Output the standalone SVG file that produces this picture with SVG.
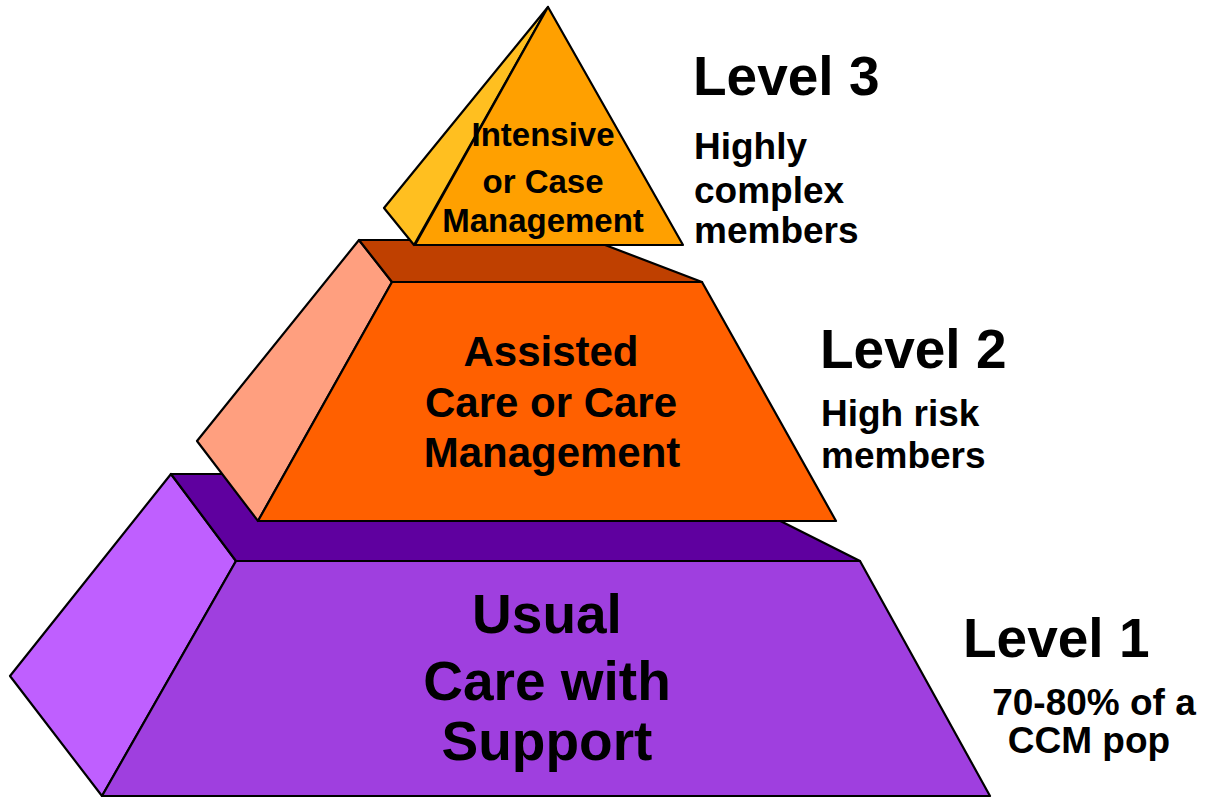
<svg xmlns="http://www.w3.org/2000/svg" width="1207" height="797" viewBox="0 0 1207 797">
<style>
.f{stroke:#000;stroke-width:2.2;stroke-linejoin:round}
text{font-family:"Liberation Sans",Arial,sans-serif;font-weight:bold;fill:#000}
.c{text-anchor:middle}
.lv{font-size:55px}
.sub{font-size:37px}
</style>
<rect width="1207" height="797" fill="#fff"/>
<g id="tier1">
<polygon class="f" fill="#BF5FFF" points="171,474 10,676 102,796 236,561"/>
<polygon class="f" fill="#5F009F" points="171,474 687,474 860,561 236,561"/>
<polygon class="f" fill="#9F3FDF" points="236,561 860,561 990,796 102,796" stroke-width="2.6"/>
<text class="c" font-size="55" x="547" y="633">Usual</text>
<text class="c" font-size="55" x="547" y="700">Care with</text>
<text class="c" font-size="55" x="547" y="760">Support</text>
</g>
<g id="tier2">
<polygon class="f" fill="#FF9F7F" points="359,240 197,441 258,521 392,282"/>
<polygon class="f" fill="#BF4000" points="359,240 592,240 702,282 392,282"/>
<polygon class="f" fill="#FF6000" points="392,282 702,282 836,521 258,521"/>
<text class="c" font-size="42" x="551" y="366">Assisted</text>
<text class="c" font-size="42" x="551" y="417">Care or Care</text>
<text class="c" font-size="42" x="552" y="467">Management</text>
</g>
<g id="tier3">
<polygon class="f" fill="#FFBF20" points="548,7 384,208 414,245"/>
<polygon class="f" fill="#FFA000" points="548,7 415,245 683,245"/>
<text class="c" font-size="33" x="543" y="146">Intensive</text>
<text class="c" font-size="33" x="543" y="193">or Case</text>
<text class="c" font-size="33" x="543" y="232">Management</text>
</g>
<g id="label3">
<text class="lv" x="693" y="95">Level 3</text>
<text class="sub" x="694" y="159">Highly</text>
<text class="sub" x="694" y="203">complex</text>
<text class="sub" x="694" y="243">members</text>
</g>
<g id="label2">
<text class="lv" x="820" y="368">Level 2</text>
<text class="sub" x="821" y="426">High risk</text>
<text class="sub" x="821" y="468">members</text>
</g>
<g id="label1">
<text class="lv" x="963" y="657">Level 1</text>
<text class="sub c" x="1094" y="715">70-80% of a</text>
<text class="sub c" x="1089" y="753">CCM pop</text>
</g>
</svg>
